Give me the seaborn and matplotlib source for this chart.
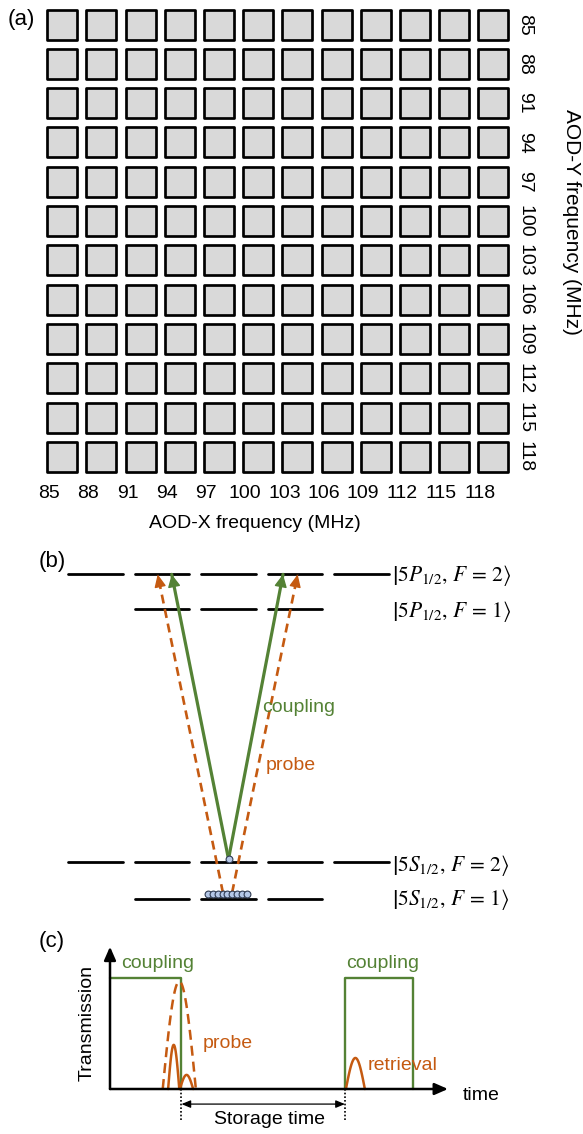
import numpy as np
import pandas as pd
import matplotlib
matplotlib.use("Agg")
import matplotlib.pyplot as plt
import seaborn as sns
from matplotlib.transforms import ScaledTranslation

sns.set_theme(style="white")
plt.rcParams["font.family"] = ["Liberation Sans", "DejaVu Sans"]
plt.rcParams["mathtext.fontset"] = "stix"
plt.rcParams["text.color"] = "black"

W, H, DPI = 583, 1134, 100
GREEN = "#548235"
ORANGE = "#c55a11"

# ---------------- data ----------------
# (a) AOD tweezer grid frequencies (MHz)
aod_x_freq = [85, 88, 91, 94, 97, 100, 103, 106, 109, 112, 115, 118]
aod_y_freq = [85, 88, 91, 94, 97, 100, 103, 106, 109, 112, 115, 118]

# (b) hyperfine levels: energy (arb.) and the sites where each level is drawn
level_energy = [8.91, 7.95, 1.0, 0.0]
level_sites = [[0, 1, 2, 3, 4], [1, 2, 3], [0, 1, 2, 3, 4], [1, 2, 3]]
level_labels = [r"$\left|5P_{1/2},\,F\,=\,2\right\rangle$",
                r"$\left|5P_{1/2},\,F\,=\,1\right\rangle$",
                r"$\left|5S_{1/2},\,F\,=\,2\right\rangle$",
                r"$\left|5S_{1/2},\,F\,=\,1\right\rangle$"]
# coupling beams: start (site, energy) -> tip (site, energy)
coupling_start = [(2.0, 1.09), (2.0, 1.09)]
coupling_tip = [(1.146, 8.91), (2.82, 8.91)]
# probe beams
probe_start = [(1.917, 0.157), (2.053, 0.157)]
probe_tip = [(0.935, 8.91), (3.04, 8.91)]
# atoms
atom_f2_site = [2.0]
atom_f2_energy = [1.09]
atom_f1_site = [1.69, 1.76, 1.84, 1.91, 1.98, 2.06, 2.13, 2.20, 2.28]
atom_f1_energy = [0.12] * 9

# (c) timing sequence (time in arb. units, transmission in arb. units)
coupling1_t = [0.0, 21.15, 21.15]
coupling1_v = [0.78, 0.78, 0.0]
coupling2_t = [69.5, 69.5, 89.5, 89.5]
coupling2_v = [0.0, 0.78, 0.78, 0.0]
# pulses: (start, end, peak)
probe_in_pulse = (15.6, 25.4, 0.756)
probe_out_pulses = [(17.2, 20.5, 0.31), (20.7, 24.6, 0.099)]
retrieval_pulse = (69.8, 75.4, 0.218)
storage_window = (21.15, 69.5)

# ---------------- helpers ----------------
fig = plt.figure(figsize=(W / DPI, H / DPI), dpi=DPI)


def px_axes(x0, y0, x1, y1):
    ax = fig.add_axes([x0 / W, 1 - y1 / H, (x1 - x0) / W, (y1 - y0) / H])
    ax.set_facecolor("none")
    return ax


def px_text(x, y, s, **kw):
    kw.setdefault("va", "center")
    return fig.text(x / W, 1 - y / H, s, **kw)


def arch(start, end, peak, n=60):
    t = np.linspace(start, end, n)
    return t, peak * np.sin(np.pi * (t - start) / (end - start))


def line(ax, x, y, **kw):
    sns.lineplot(x=x, y=y, sort=False, estimator=None, ax=ax, **kw)
    return ax.lines[-1]


# ---------------- (a) tweezer grid ----------------
ax_a = px_axes(42.6, 4.85, 513.0, 476.45)
grid = pd.DataFrame([(fx, fy) for fy in aod_y_freq for fx in aod_x_freq],
                    columns=["fx", "fy"])
sns.scatterplot(data=grid, x="fx", y="fy", marker="s", s=470, color="#d9d9d9",
                edgecolor="black", linewidth=1.95, ax=ax_a, legend=False,
                clip_on=False)
ax_a.set_xlim(83.5, 119.5)
ax_a.set_ylim(119.5, 83.5)
ax_a.set_axis_off()
xlab_tr = ax_a.get_xaxis_transform() + ScaledTranslation(-13 / DPI, -17 / DPI,
                                                         fig.dpi_scale_trans)
for f in aod_x_freq:
    ax_a.text(f, 0, str(f), transform=xlab_tr, ha="center", va="center",
              fontsize=14)
ylab_tr = ax_a.get_yaxis_transform() + ScaledTranslation(12 / DPI, 0,
                                                         fig.dpi_scale_trans)
for f in aod_y_freq:
    ax_a.text(1, f, str(f), transform=ylab_tr, ha="center", va="center",
              rotation=270, fontsize=14)
px_text(255, 523, "AOD-X frequency (MHz)", ha="center", fontsize=14)
px_text(572, 222, "AOD-Y frequency (MHz)", ha="center", rotation=270, fontsize=15)
px_text(8, 20, "(a)", ha="left", fontsize=16)

# ---------------- (b) level scheme ----------------
ax_b = px_axes(62.25, 552.9, 394.75, 916.9)
ax_b.set_xlim(-0.5, 4.5)
ax_b.set_ylim(-0.5, 9.5)
ax_b.set_axis_off()
seg_rows = []
for li, (e, sites) in enumerate(zip(level_energy, level_sites)):
    for s in sites:
        seg_rows.append((f"{li}-{s}", s - 0.413, e))
        seg_rows.append((f"{li}-{s}", s + 0.413, e))
segs = pd.DataFrame(seg_rows, columns=["seg", "site", "energy"])
sns.lineplot(data=segs, x="site", y="energy", units="seg", estimator=None,
             sort=False, color="black", linewidth=2.0, ax=ax_b, legend=False)

for (s0, e0), (s1, e1) in zip(probe_start, probe_tip):
    ln = line(ax_b, [s0, s1], [e0, e1], color=ORANGE, linewidth=1.9)
    ln.set_dashes((3.4, 2.2))
    ax_b.annotate("", xy=(s1, e1), xytext=(s1 + (s0 - s1) * 0.03, e1 + (e0 - e1) * 0.03),
                  arrowprops=dict(arrowstyle="-|>,head_length=0.7,head_width=0.32",
                                  color=ORANGE, lw=1.0, mutation_scale=11,
                                  shrinkA=0, shrinkB=0))
for (s0, e0), (s1, e1) in zip(coupling_start, coupling_tip):
    line(ax_b, [s0, s1], [e0, e1], color=GREEN, linewidth=2.3)
    ax_b.annotate("", xy=(s1, e1), xytext=(s1 + (s0 - s1) * 0.03, e1 + (e0 - e1) * 0.03),
                  arrowprops=dict(arrowstyle="-|>,head_length=0.7,head_width=0.35",
                                  color=GREEN, lw=1.0, mutation_scale=11,
                                  shrinkA=0, shrinkB=0))
sns.scatterplot(x=atom_f1_site, y=atom_f1_energy, s=24, color="#b4c7e7",
                edgecolor="#2f3b52", linewidth=0.8, ax=ax_b, legend=False,
                zorder=5, clip_on=False)
sns.scatterplot(x=atom_f2_site, y=atom_f2_energy, s=24, color="#b4c7e7",
                edgecolor="#2f3b52", linewidth=0.8, ax=ax_b, legend=False,
                zorder=5, clip_on=False)
for lab, y in zip(level_labels, [576, 611, 865, 900]):
    px_text(392, y, lab, ha="left", fontsize=15.5)
px_text(262, 707, "coupling", ha="left", color=GREEN, fontsize=14)
px_text(266, 765, "probe", ha="left", color=ORANGE, fontsize=14)
px_text(39, 562, "(b)", ha="left", fontsize=16)

# ---------------- (c) timing diagram ----------------
ax_c = px_axes(110, 946.7, 448, 1089)
ax_c.set_xlim(0, 100)
ax_c.set_ylim(0, 1)
ax_c.set_axis_off()
axis_arrow = dict(arrowstyle="-|>,head_length=0.8,head_width=0.35", color="black",
                  lw=1.8, mutation_scale=10, shrinkA=0, shrinkB=0)
ax_c.annotate("", xy=(1, 0), xytext=(0, 0), xycoords="axes fraction",
              arrowprops=axis_arrow, zorder=6)
ax_c.annotate("", xy=(0, 1), xytext=(0, 0), xycoords="axes fraction",
              arrowprops=axis_arrow, zorder=6)

line(ax_c, coupling1_t, coupling1_v, color=GREEN, linewidth=1.7)
line(ax_c, coupling2_t, coupling2_v, color=GREEN, linewidth=1.7)
t, v = arch(*probe_in_pulse)
line(ax_c, t, v, color=ORANGE, linewidth=1.8).set_dashes((4.0, 2.4))
for p in probe_out_pulses + [retrieval_pulse]:
    t, v = arch(*p)
    line(ax_c, t, v, color=ORANGE, linewidth=1.8)
for ln in ax_c.lines:
    ln.set_clip_on(False)

for ts in storage_window:
    ax_c.plot([ts, ts], [0, -0.23], color="black", lw=1.2, ls=(0, (1, 1.2)),
              clip_on=False)
ax_c.annotate("", xy=(storage_window[1], -0.106), xytext=(storage_window[0], -0.106),
              arrowprops=dict(arrowstyle="<|-|>,head_length=0.6,head_width=0.25",
                              color="black", lw=0.9, mutation_scale=9,
                              shrinkA=0, shrinkB=0), annotation_clip=False)

px_text(121, 963, "coupling", ha="left", color=GREEN, fontsize=14)
px_text(345.7, 963, "coupling", ha="left", color=GREEN, fontsize=14)
px_text(202.6, 1043, "probe", ha="left", color=ORANGE, fontsize=14)
px_text(368, 1066, "retrieval", ha="left", color=ORANGE, fontsize=14)
px_text(463, 1095, "time", ha="left", fontsize=14)
px_text(87, 1023, "Transmission", ha="center", rotation=90, fontsize=14)
px_text(270, 1119, "Storage time", ha="center", fontsize=14)
px_text(39, 941, "(c)", ha="left", fontsize=16)

fig.savefig("out.png", dpi=DPI)
